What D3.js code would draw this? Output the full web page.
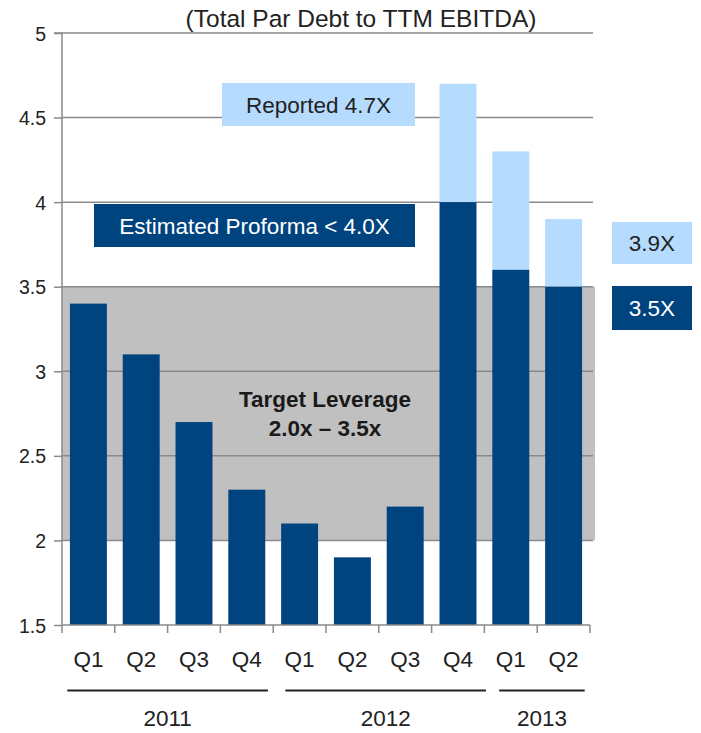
<!DOCTYPE html>
<html>
<head>
<meta charset="utf-8">
<script src="https://cdn.jsdelivr.net/npm/d3@7"></script>
<style>
  body { margin: 0; background: #fff; }
  svg { display: block; font-family: "Liberation Sans", Arial, sans-serif; }
</style>
</head>
<body>
<svg id="chart" width="701" height="733"></svg>
<script>
// leverage chart - quarterly debt / EBITDA

const quarters = ['Q1', 'Q2', 'Q3', 'Q4', 'Q1', 'Q2', 'Q3', 'Q4', 'Q1', 'Q2'];
const years = ['2011', '2011', '2011', '2011', '2012', '2012', '2012', '2012', '2013', '2013'];
const proforma = [3.4, 3.1, 2.7, 2.3, 2.1, 1.9, 2.2, 4.0, 3.6, 3.5];
const reported = [null, null, null, null, null, null, null, 4.7, 4.3, 3.9];
const yTicks = [1.5, 2, 2.5, 3, 3.5, 4, 4.5, 5];
const targetBand = [2.0, 3.5];

const DARK = '#00447f';
const LIGHT = '#b5dbff';
const BAND = '#c0c0c0';
const GRID = '#8a8a8a';
const TXT = '#222';

const svg = d3.select('#chart');
const margin = { left: 62, right: 111, top: 33, bottom: 108 };
const W = 701, H = 733;

const keys = quarters.map((q, i) => i);
const x = d3.scaleBand()
  .domain(keys)
  .range([margin.left, W - margin.right])
  .paddingInner(0.3)
  .paddingOuter(0.15);
const y = d3.scaleLinear().domain([1.5, 5]).range([H - margin.bottom, margin.top]);
// band units -> px, used for the year bracket lines
const u = d3.scaleLinear().domain([0, keys.length]).range([margin.left, W - margin.right]);

const plotRight = W - margin.right + 3;

// target band
svg.append('rect')
  .attr('x', margin.left)
  .attr('y', y(targetBand[1]))
  .attr('width', plotRight + 2 - margin.left)
  .attr('height', y(targetBand[0]) - y(targetBand[1]))
  .attr('fill', BAND);

// gridlines
svg.append('g')
  .selectAll('line')
  .data(yTicks.filter(t => t > 1.5))
  .join('line')
  .attr('x1', margin.left)
  .attr('x2', plotRight)
  .attr('y1', d => y(d))
  .attr('y2', d => y(d))
  .attr('stroke', GRID)
  .attr('stroke-width', 1.5);

// reported (light) bars behind
svg.append('g')
  .selectAll('rect')
  .data(keys.filter(i => reported[i] != null))
  .join('rect')
  .attr('x', i => x(i))
  .attr('width', x.bandwidth())
  .attr('y', i => y(reported[i]))
  .attr('height', i => y(proforma[i]) - y(reported[i]))
  .attr('fill', LIGHT);

// proforma (dark) bars
svg.append('g')
  .selectAll('rect')
  .data(keys)
  .join('rect')
  .attr('x', i => x(i))
  .attr('width', x.bandwidth())
  .attr('y', i => y(proforma[i]))
  .attr('height', i => y(1.5) - y(proforma[i]))
  .attr('fill', DARK);

// y axis
const yAxis = svg.append('g')
  .attr('transform', `translate(${margin.left},0)`)
  .call(d3.axisLeft(y).tickValues(yTicks).tickSize(8).tickFormat(d3.format('')));
yAxis.select('.domain').attr('stroke', GRID).attr('stroke-width', 1.5)
  .attr('d', `M-8,${y(5)}H0V${y(1.5)}`);
yAxis.selectAll('.tick line').attr('stroke', GRID).attr('stroke-width', 1.5);
yAxis.selectAll('.tick text')
  .attr('x', -16)
  .attr('dy', '0.36em')
  .attr('font-size', 19.5)
  .attr('font-family', '"Liberation Sans", Arial, sans-serif')
  .attr('fill', TXT);

// x axis
const xBase = y(1.5);
const xg = svg.append('g');
xg.append('line')
  .attr('x1', margin.left).attr('x2', plotRight - 3)
  .attr('y1', xBase).attr('y2', xBase)
  .attr('stroke', GRID).attr('stroke-width', 1.5);
xg.selectAll('line.tk')
  .data(d3.range(keys.length + 1))
  .join('line')
  .attr('class', 'tk')
  .attr('x1', j => u(j))
  .attr('x2', j => u(j))
  .attr('y1', xBase).attr('y2', xBase + 8)
  .attr('stroke', GRID).attr('stroke-width', 1.5);

xg.selectAll('text.q')
  .data(keys)
  .join('text')
  .attr('class', 'q')
  .attr('x', i => x(i) + x.bandwidth() / 2)
  .attr('y', 667)
  .attr('text-anchor', 'middle')
  .attr('font-size', 22.5)
  .attr('fill', TXT)
  .text(i => quarters[i]);

// year groups (bracket lines sit slightly off the tick grid, as in the source)
const yearNames = Array.from(new Set(years));
const yearInsets = { '2011': [0.1, -0.1], '2012': [0.23, 0.03], '2013': [0.28, -0.1] };
const yearSpans = yearNames.map(yr => {
  const idx = keys.filter(i => years[i] === yr);
  const ins = yearInsets[yr];
  return { yr, x0: u(idx[0] + ins[0]), x1: u(idx[idx.length - 1] + 1 + ins[1]) };
});
xg.selectAll('line.yr')
  .data(yearSpans)
  .join('line')
  .attr('class', 'yr')
  .attr('x1', d => d.x0).attr('x2', d => d.x1)
  .attr('y1', 690.5).attr('y2', 690.5)
  .attr('stroke', '#222').attr('stroke-width', 2);
xg.selectAll('text.yr')
  .data(yearSpans)
  .join('text')
  .attr('class', 'yr')
  .attr('x', d => (d.x0 + d.x1) / 2)
  .attr('y', 726)
  .attr('text-anchor', 'middle')
  .attr('font-size', 22.5)
  .attr('fill', TXT)
  .text(d => d.yr);

// title
svg.append('text')
  .attr('x', 361).attr('y', 27)
  .attr('text-anchor', 'middle')
  .attr('font-size', 24.5)
  .attr('fill', TXT)
  .text('(Total Par Debt to TTM EBITDA)');

// annotation boxes
const boxes = [
  { x0: 222, x1: 415, y0: 83, y1: 126, fill: LIGHT, color: TXT, label: 'Reported 4.7X' },
  { x0: 94, x1: 415, y0: 204, y1: 247, fill: DARK, color: '#fff', label: 'Estimated Proforma < 4.0X' },
  { x0: 612, x1: 692, y0: 222, y1: 264, fill: LIGHT, color: TXT, label: '3.9X' },
  { x0: 612, x1: 692, y0: 286, y1: 330, fill: DARK, color: '#fff', label: '3.5X' }
];
const bg = svg.append('g').selectAll('g').data(boxes).join('g');
bg.append('rect')
  .attr('x', d => d.x0).attr('y', d => d.y0)
  .attr('width', d => d.x1 - d.x0).attr('height', d => d.y1 - d.y0)
  .attr('fill', d => d.fill);
bg.append('text')
  .attr('x', d => (d.x0 + d.x1) / 2)
  .attr('y', d => (d.y0 + d.y1) / 2 + 8)
  .attr('text-anchor', 'middle')
  .attr('font-size', 22.5)
  .attr('fill', d => d.color)
  .text(d => d.label);

// target label
const tl = svg.append('text')
  .attr('text-anchor', 'middle')
  .attr('font-size', 22.5)
  .attr('font-weight', 'bold')
  .attr('fill', '#1a1a1a');
tl.append('tspan').attr('x', 325).attr('y', 407).text('Target Leverage');
tl.append('tspan').attr('x', 325).attr('y', 436).text('2.0x \u2013 3.5x');
</script>
</body>
</html>
